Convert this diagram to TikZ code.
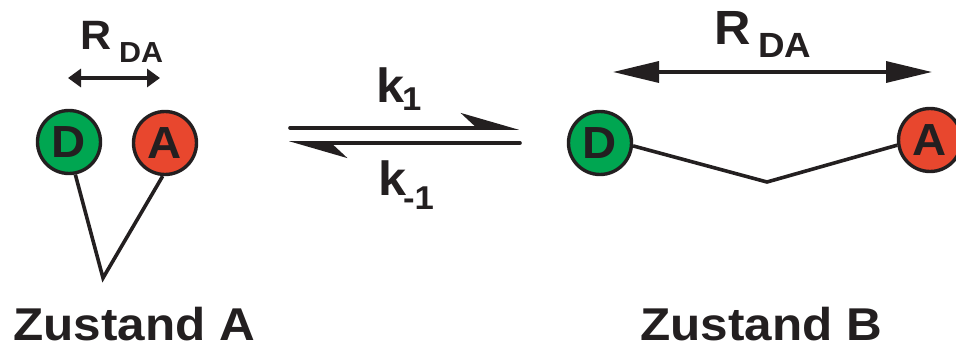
\documentclass[tikz,border=0pt]{standalone}
\usepackage{fontspec}
\setmainfont{Liberation Sans}
\newfontfamily\wb{Liberation Sans}[UprightFont={* Bold}, FakeStretch=1.05]
\newfontfamily\wbt{Liberation Sans}[UprightFont={* Bold}, FakeStretch=1.075]
\usetikzlibrary{arrows.meta}
\definecolor{ink}{HTML}{231F20}
\definecolor{dgreen}{HTML}{00A651}
\definecolor{ared}{HTML}{E8472E}
\newcommand{\fs}[1]{\wb\fontsize{#1}{#1}\selectfont}

\begin{document}
\begin{tikzpicture}[x=1pt,y=-1pt,
  dye/.style={circle, draw=ink, line width=3.4pt, minimum size=63pt, inner sep=0pt,
              text=ink, font=\fs{45}},
  donor/.style={dye, fill=dgreen},
  acceptor/.style={dye, fill=ared},
  linker/.style={draw=ink, line width=3.6pt, line join=miter},
  lbl/.style={inner sep=0pt, anchor=base west, text=ink},
  title/.style={lbl, text depth=0pt, font=\wbt\fontsize{46}{46}\selectfont},
  dist/.style={draw=ink, line width=3.4pt},
  rate/.style={draw=ink, line width=3.6pt, line cap=round},
  barb/.tip={Stealth[harpoon, length=52pt, width=30pt, inset=16pt]}]
\useasboundingbox (0,0) rectangle (956,350);

% --- state A: donor and acceptor close together
\node[donor]    (dA) at (69,142)  {D};
\node[acceptor] (aA) at (165,143) {A};
\coordinate (apA) at (103,278);
\draw[linker] (dA.281) -- (apA) -- (aA.266);

\coordinate (lL) at (68,78);
\coordinate (lR) at (160,78);
\draw[dist, {Triangle[length=13pt,width=18pt]}-{Triangle[length=13pt,width=18pt]}] (lL) -- (lR);
\node[lbl, font=\fs{41}] (rA)  at (80,50)  {R};
\node[lbl, font=\fs{29}] (rAs) at (119,63) {DA};

\node[title] (zA) at (13,340) {Zustand A};

% --- rate constants
\coordinate (f0) at (290,128);
\coordinate (f1) at (519,128);
\draw[rate, -barb] (f0) -- (f1);
\coordinate (b0) at (520,143);
\coordinate (b1) at (289,143);
\draw[rate, -barb] (b0) -- (b1);

\node[lbl, font=\fs{48}] (k1)  at (376,103) {k};
\node[lbl, font=\fs{33}] (k1s) at (402,111) {1};
\node[lbl, font=\fs{48}] (km)  at (378,195) {k};
\node[lbl, font=\fs{33}] (kms) at (403,209) {-1};

% --- state B: donor and acceptor far apart
\node[donor]    (dB) at (600,143) {D};
\node[acceptor] (aB) at (930,140) {A};
\coordinate (apB) at (767,182);
\draw[linker] (dB.355) -- (apB) -- (aB.189);

\coordinate (rL) at (613,72);
\coordinate (rR) at (932,72);
\draw[dist, {Triangle[length=46pt,width=21pt]}-{Triangle[length=46pt,width=21pt]}] (rL) -- (rR);
\node[lbl, font=\fs{48}] (rB)  at (714,45) {R};
\node[lbl, font=\fs{35}] (rBs) at (758,58) {DA};

\node[title] (zB) at (640,340) {Zustand B};
\end{tikzpicture}
\end{document}
